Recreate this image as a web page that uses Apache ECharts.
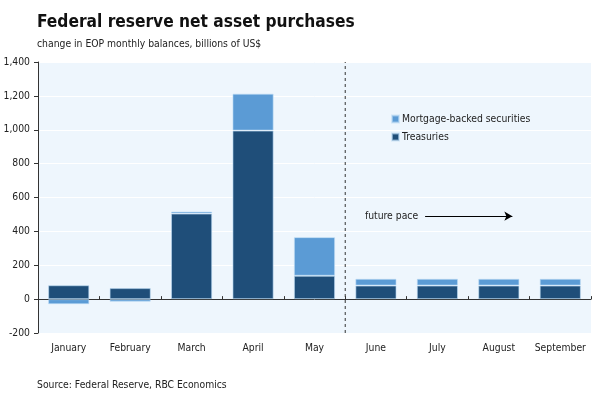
<!DOCTYPE html>
<html>
<head>
<meta charset="utf-8">
<script src="https://cdn.jsdelivr.net/npm/echarts@6/dist/echarts.min.js"></script>
<style>
  html, body { margin: 0; padding: 0; background: #fff; }
  #chart { width: 600px; height: 399px; }
</style>
</head>
<body>
<div id="chart"></div>
<script>
// data, billions of US$
const months = ['January', 'February', 'March', 'April', 'May', 'June', 'July', 'August', 'September'];
const treasuries = [82, 65, 505, 995, 138, 80, 80, 80, 80];
const mbs = [-30, -15, 12, 218, 228, 40, 40, 40, 40];
const yTicks = { min: -200, max: 1400, interval: 200 };

// forecast divider and "future pace" arrow, in category-index units
const dividerAt = 5;
const arrowFrom = [6.3, 490];
const arrowTo = [7.72, 490];

const font = 'DejaVu Sans Condensed';
const dark = '#1f4e79';
const light = '#5b9bd5';

let chart = echarts.init(document.getElementById('chart'));

const option = {
    animation: false,
    textStyle: { fontFamily: font },
    title: [{
        text: 'Federal reserve net asset purchases',
        left: 32, top: 9,
        textStyle: { fontFamily: font, fontSize: 17.2, fontWeight: 'bold', color: '#111' }
    }, {
        text: 'change in EOP monthly balances, billions of US$',
        left: 32, top: 34,
        textStyle: { fontFamily: font, fontSize: 10.3, fontWeight: 'normal', color: '#222' }
    }, {
        text: 'Source: Federal Reserve, RBC Economics',
        left: 32, top: 375,
        textStyle: { fontFamily: font, fontSize: 10.3, fontWeight: 'normal', color: '#222' }
    }],
    legend: {
        orient: 'vertical',
        left: 386, top: 109,
        itemWidth: 7, itemHeight: 7, itemGap: 8,
        icon: 'rect',
        data: ['Mortgage-backed securities', 'Treasuries'],
        textStyle: { fontFamily: font, fontSize: 10.3, color: '#222', padding: [0, 0, 0, -2] }
    },
    grid: {
        left: 38, right: 9, top: 62, bottom: 66,
        show: true, backgroundColor: '#eef6fd', borderWidth: 0
    },
    xAxis: [{
        type: 'category',
        data: months,
        position: 'bottom',
        axisLine: { show: false, onZero: false },
        axisTick: { show: false },
        axisLabel: { fontSize: 10.3, color: '#222', margin: 10, interval: 0 }
    }, {
        type: 'category',
        data: months,
        axisLine: { show: true, onZero: true, lineStyle: { color: '#333', width: 1 } },
        axisTick: { show: true, length: 3, interval: 0, lineStyle: { color: '#333' } },
        axisLabel: { show: false }
    }, {
        type: 'value',
        min: 0, max: months.length,
        show: false
    }],
    yAxis: {
        type: 'value',
        min: yTicks.min, max: yTicks.max, interval: yTicks.interval,
        axisLine: { show: true, lineStyle: { color: '#333' } },
        axisTick: { show: true, length: 4, lineStyle: { color: '#333' } },
        axisLabel: { fontSize: 10.3, color: '#222', margin: 8 },
        splitLine: { show: true, lineStyle: { color: '#ffffff', width: 1 } }
    },
    series: [{
        name: 'Treasuries',
        type: 'bar',
        stack: 'fed',
        xAxisIndex: 0,
        data: treasuries,
        barCategoryGap: '33%',
        itemStyle: { color: dark, borderColor: 'rgba(190,220,245,0.6)', borderWidth: 1 }
    }, {
        name: 'Mortgage-backed securities',
        type: 'bar',
        stack: 'fed',
        xAxisIndex: 0,
        data: mbs,
        barCategoryGap: '33%',
        itemStyle: { color: light, borderColor: 'rgba(190,220,245,0.6)', borderWidth: 1 }
    }, {
        name: 'divider',
        type: 'line',
        xAxisIndex: 2,
        data: [[dividerAt, yTicks.min], [dividerAt, yTicks.max]],
        symbol: 'none',
        silent: true,
        lineStyle: { color: '#333', width: 1, type: [3, 3] },
        markLine: {
            silent: true,
            symbol: ['none', 'arrow'],
            symbolSize: [7, 8],
            lineStyle: { color: '#000', width: 1, type: 'solid' },
            label: {
                show: true, position: 'start', formatter: 'future pace',
                fontFamily: font, fontSize: 10.3, color: '#222', distance: 7
            },
            data: [[{ coord: arrowFrom }, { coord: arrowTo }]]
        }
    }]
};

chart.setOption(option);
</script>
</body>
</html>
